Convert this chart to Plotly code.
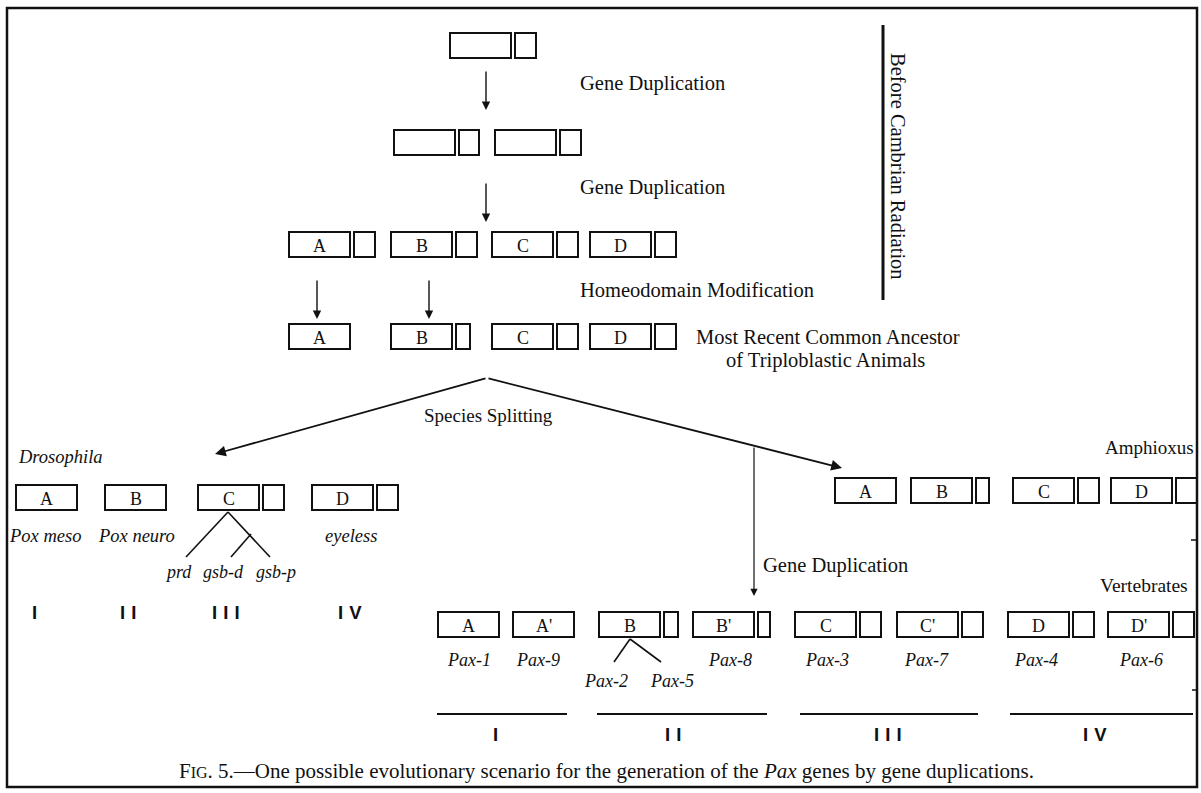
import plotly.graph_objects as go

W, H = 1201, 793

# ---------------- data (labels / categories) ----------------
stage_labels = ["Gene Duplication", "Gene Duplication", "Homeodomain Modification"]
ancestor_label = ["Most Recent Common Ancestor", "of Triploblastic Animals"]
period_label = "Before Cambrian Radiation"
split_label = "Species Splitting"
dup_label = "Gene Duplication"
paralog_groups = ["A", "B", "C", "D"]
row4_has_hd = [False, True, True, True]          # homeodomain box present after modification
row4_hd_size = ["none", "short", "full", "full"]
species = ["Drosophila", "Amphioxus", "Vertebrates"]
drosophila_genes = ["Pox meso", "Pox neuro", "", "eyeless"]
drosophila_has_hd = [False, False, True, True]
drosophila_c_genes = ["prd", "gsb-d", "gsb-p"]
amphioxus_has_hd = [False, True, True, True]
vert_boxes = ["A", "A'", "B", "B'", "C", "C'", "D", "D'"]
vert_genes = ["Pax-1", "Pax-9", "", "Pax-8", "Pax-3", "Pax-7", "Pax-4", "Pax-6"]
vert_has_hd = [False, False, True, True, True, True, True, True]
vert_b_genes = ["Pax-2", "Pax-5"]
group_numerals = ["I", "II", "III", "IV"]
caption_prefix = "F<span style='font-size:16px'>IG</span>. 5.—One possible evolutionary scenario for the generation of the "
caption_italic = "Pax"
caption_suffix = " genes by gene duplications."

# ---------------- layout (pixel positions) ----------------
SERIF = "Liberation Serif"
SANS = "Liberation Sans"
BLACK = "#111111"

fig = go.Figure()
shapes = []
annotations = []


def rect(x0, x1, y0, y1, w=2):
    shapes.append(dict(type="rect", xref="x", yref="y", x0=x0, x1=x1, y0=y0, y1=y1,
                       line=dict(color=BLACK, width=w), fillcolor="rgba(0,0,0,0)"))


def line(x0, y0, x1, y1, w=1.6):
    shapes.append(dict(type="line", xref="x", yref="y", x0=x0, y0=y0, x1=x1, y1=y1,
                       line=dict(color=BLACK, width=w)))


def arrow(x0, y0, x1, y1, w=1.4):
    annotations.append(dict(x=x1, y=y1, ax=x0, ay=y0, xref="x", yref="y", axref="x", ayref="y",
                            showarrow=True, arrowhead=2, arrowsize=1.2, arrowwidth=w,
                            arrowcolor=BLACK, text="", standoff=0))


def text(x, y, s, size=20.5, anchor="center", italic=False, font=SERIF, angle=0, bold=False):
    if italic:
        s = "<i>" + s + "</i>"
    if bold:
        s = "<b>" + s + "</b>"
    annotations.append(dict(x=x, y=y, xref="x", yref="y", text=s, showarrow=False,
                            xanchor=anchor, yanchor="middle", textangle=angle,
                            font=dict(family=font, size=size, color=BLACK)))


def numeral(x, y, n):
    text(x, y, "\u2004".join(n), font=SANS, size=18.5, bold=True)


def gene(xb, y0, y1, label=None, hd=True, bw=61, sw=21, gap=4, size=18):
    rect(xb, xb + bw, y0, y1)
    if hd:
        rect(xb + bw + gap, xb + bw + gap + sw, y0, y1)
    if label:
        text(xb + bw / 2, (y0 + y1) / 2 + 1.5, label, size=size)


# outer frame
rect(7, 1197, 8, 787, w=2.5)
line(1191, 540, 1197, 540, w=1.5)
line(1192, 690, 1197, 690, w=1.5)

# row 1: ancestral paired gene
gene(450, 33, 58)
arrow(486, 70, 486, 110)
text(578, 83, stage_labels[0], anchor="left")

# row 2: duplicated
gene(394, 130, 155, sw=20)
gene(495, 130, 155)
arrow(486, 182, 486, 222)
text(578, 187, stage_labels[1], anchor="left")

# row 3: A B C D
row_x = [289, 391, 492, 590]
for xb, lab in zip(row_x, paralog_groups):
    gene(xb, 232, 257, label=lab)
arrow(317, 279, 317, 319)
arrow(429, 279, 429, 319)
text(578, 290, stage_labels[2], anchor="left")

# row 4: most recent common ancestor
for xb, lab, hd, sz in zip(row_x, paralog_groups, row4_has_hd, row4_hd_size):
    gene(xb, 324, 349, label=lab, hd=hd, sw=(14 if sz == "short" else 21))
text(694, 337, ancestor_label[0], anchor="left")
text(825, 360, ancestor_label[1])

# period bar
line(883, 25, 883, 300, w=3)
text(898, 166, period_label, angle=90)

# species splitting
arrow(487, 378, 215, 454, w=1.8)
arrow(487, 378, 842, 468, w=1.8)
text(488, 415, split_label, size=19)
arrow(754, 446, 754, 596, w=1.2)
text(761, 565, dup_label, anchor="left")

# Drosophila
text(16, 457, species[0], anchor="left", italic=True, size=18.5)
dros_x = [16, 105, 198, 312]
for xb, lab, hd, g in zip(dros_x, paralog_groups, drosophila_has_hd, drosophila_genes):
    gene(xb, 485, 510, label=lab, hd=hd)
dros_lab_x = [45, 136, 0, 351]
for xl, g in zip(dros_lab_x, drosophila_genes):
    if g:
        text(xl, 536, g, italic=True, size=18.5)
# C splits
line(228, 512, 186, 557)
line(228, 512, 270, 557)
line(251, 534, 231, 557)
for xl, g in zip([178, 223, 276], drosophila_c_genes):
    text(xl, 572, g, italic=True, size=18)
for xl, n in zip([34, 128, 226, 350], group_numerals):
    numeral(xl, 612, n)

# Amphioxus
text(1196, 447, species[1], anchor="right", size=19)
amph_x = [835, 911, 1013, 1111]
amph_sw = [21, 13, 21, 21]
for xb, lab, hd, sw in zip(amph_x, paralog_groups, amphioxus_has_hd, amph_sw):
    gene(xb, 478, 503, label=lab, hd=hd, sw=sw)

# Vertebrates
text(1190, 585, species[2], anchor="right", size=19.5)
vert_x = [438, 513, 599, 693, 795, 897, 1008, 1108]
vert_sw = [21, 21, 14, 12, 21, 21, 21, 21]
for xb, lab, hd, sw in zip(vert_x, vert_boxes, vert_has_hd, vert_sw):
    gene(xb, 612, 637, label=lab, hd=hd, sw=sw)
vert_lab_x = [469, 538, 0, 730, 827, 926, 1036, 1141]
for xl, g in zip(vert_lab_x, vert_genes):
    if g:
        text(xl, 660, g, italic=True, size=18)
line(630, 639, 614, 662)
line(630, 639, 661, 662)
for xl, g in zip([606, 672], vert_b_genes):
    text(xl, 681, g, italic=True, size=18)

group_spans = [(437, 567), (597, 767), (800, 978), (1010, 1193)]
group_mid = [495, 673, 888, 1095]
for (a, b), xm, n in zip(group_spans, group_mid, group_numerals):
    line(a, 714, b, 714, w=2.2)
    numeral(xm, 734, n)

# caption
text(606, 771, caption_prefix + "<i>" + caption_italic + "</i>" + caption_suffix, size=21)

fig.update_layout(
    width=W, height=H,
    margin=dict(l=0, r=0, t=0, b=0),
    paper_bgcolor="white", plot_bgcolor="white",
    xaxis=dict(range=[0, W], visible=False, fixedrange=True),
    yaxis=dict(range=[H, 0], visible=False, fixedrange=True),
    shapes=shapes, annotations=annotations, showlegend=False,
)

fig.write_html("out.html", config={"displayModeBar": False, "staticPlot": True},
               post_script="document.body.style.margin='0px';document.body.style.overflow='hidden';")
